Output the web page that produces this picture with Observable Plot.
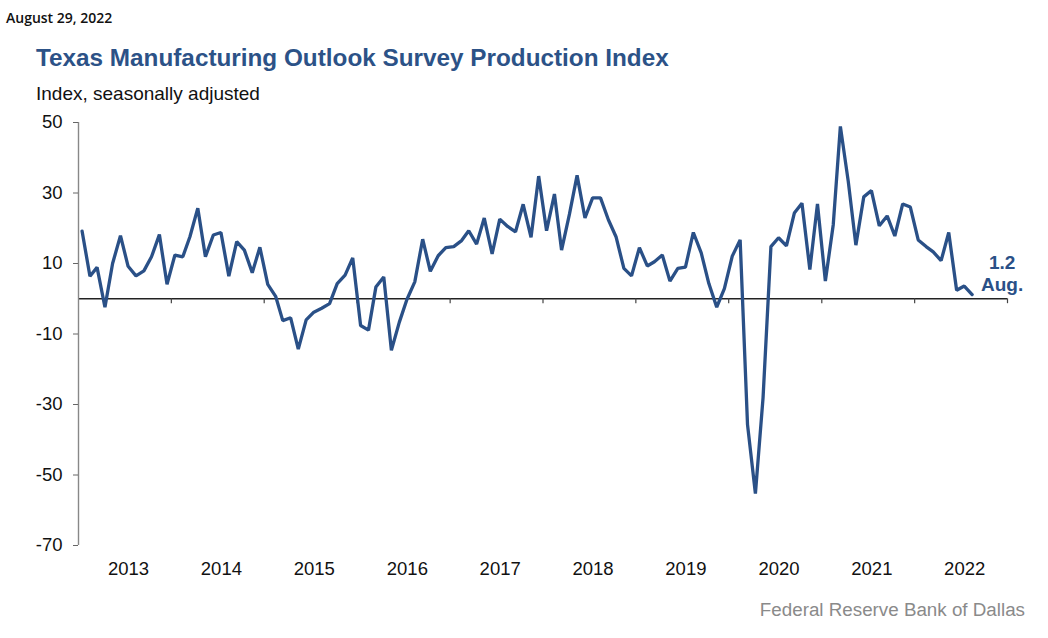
<!DOCTYPE html>
<html>
<head>
<meta charset="utf-8">
<script src="https://cdn.jsdelivr.net/npm/d3@7"></script>
<script src="https://cdn.jsdelivr.net/npm/@observablehq/plot@0.6"></script>
<style>
  html, body { margin: 0; padding: 0; background: #fff; }
  #wrap { position: relative; width: 1048px; height: 638px; overflow: hidden; background: #fff; }
  .t { position: absolute; white-space: nowrap; line-height: 1; }
  #date { left: 6px; top: 11px; font-family: "Open Sans", sans-serif; font-weight: 600; font-size: 14px; color: #111; }
  #title { left: 36px; top: 46px; font-family: "Liberation Sans", Arial, sans-serif; font-weight: bold; font-size: 24.3px; color: #2c5287; }
  #subtitle { left: 36px; top: 84px; font-family: "Liberation Sans", Arial, sans-serif; font-size: 19px; color: #111; }
  #footer { right: 23px; top: 601px; font-family: "Liberation Sans", Arial, sans-serif; font-size: 18.8px; color: #8a8a8a; }
  #chart { position: absolute; left: 0; top: 105px; }
</style>
</head>
<body>
<div id="wrap">
  <div class="t" id="date">August 29, 2022</div>
  <div class="t" id="title">Texas Manufacturing Outlook Survey Production Index</div>
  <div class="t" id="subtitle">Index, seasonally adjusted</div>
  <div id="chart"></div>
  <div class="t" id="footer">Federal Reserve Bank of Dallas</div>
</div>
<script>
// Monthly series, January 2013 through August 2022
const startYear = 2013;
const values = [
  19.2, 6.4, 8.9, -2.4, 10.0, 17.9, 9.2, 6.5, 7.9, 11.9, 18.2, 4.1,      // 2013
  12.4, 11.9, 17.6, 25.7, 11.9, 18.1, 18.8, 6.4, 16.2, 13.8, 7.4, 14.6,  // 2014
  4.1, 0.7, -6.2, -5.4, -14.3, -6.0, -3.8, -2.7, -1.4, 4.3, 6.7, 11.6,   // 2015
  -7.6, -8.9, 3.3, 6.2, -14.6, -6.7, -0.2, 4.8, 16.9, 7.8, 12.2, 14.5,   // 2016
  14.8, 16.5, 19.3, 15.5, 22.9, 12.7, 22.6, 20.5, 19.0, 26.8, 17.4, 34.8,// 2017
  19.3, 29.7, 13.8, 24.0, 35.0, 22.9, 28.6, 28.6, 22.4, 17.6, 8.6, 6.5,  // 2018
  14.5, 9.3, 10.5, 12.4, 5.0, 8.6, 9.0, 18.8, 13.0, 4.3, -2.4, 2.9,      // 2019
  12.1, 16.7, -35.7, -55.3, -28.1, 14.8, 17.3, 15.0, 24.3, 27.1, 8.3, 26.9, // 2020
  5.0, 21.0, 48.9, 33.3, 15.2, 28.9, 30.7, 20.7, 23.5, 17.8, 26.9, 26.0, // 2021
  16.7, 14.8, 13.3, 10.8, 18.8, 2.4, 3.6, 1.2                            // 2022
];
const yearLabels = ["2013","2014","2015","2016","2017","2018","2019","2020","2021","2022"];
const yTicks = [-70, -50, -30, -10, 10, 30, 50];
const lastMonthLabel = "Aug.";

const blue = "#2a5087";
const data = values.map((v, i) => ({date: new Date(Date.UTC(startYear, i, 15)), value: v}));
const last = data[data.length - 1];
const yearStarts = d3.range(startYear, startYear + yearLabels.length + 1).map(y => new Date(Date.UTC(y, 0, 1)));
const midYears = yearLabels.map(y => new Date(Date.UTC(+y, 6, 1)));

const chart = Plot.plot({
  width: 1048,
  height: 500,
  marginLeft: 78,
  marginRight: 41,
  marginTop: 17,
  marginBottom: 60,
  style: {fontFamily: "'Liberation Sans', Arial, sans-serif", fontSize: "18.5px", color: "#111", background: "white"},
  x: {type: "utc", domain: [yearStarts[0], yearStarts[yearStarts.length - 1]]},
  y: {domain: [-70, 50]},
  marks: [
    Plot.ruleY([0], {stroke: "#222", strokeWidth: 1.3}),
    Plot.ruleX(yearStarts.slice(1), {y1: 0, y2: -1.4, stroke: "#444", strokeWidth: 1.2}),
    Plot.ruleX([yearStarts[0]], {y1: -70, y2: 50, stroke: "#888", strokeWidth: 1.4}),
    Plot.axisY({ticks: yTicks, tickSize: 5, tickPadding: 11, tickFormat: d => String(d), stroke: "#666", fill: "#111", label: null}),
    Plot.axisX({ticks: midYears, tickSize: 0, tickPadding: 16, tickFormat: (d, i) => yearLabels[i], dx: 4, fill: "#111", label: null}),
    Plot.lineY(data, {x: "date", y: "value", stroke: blue, strokeWidth: 3.3, strokeLinejoin: "miter"}),
    Plot.text([last], {x: "date", y: "value", text: d => d.value.toFixed(1), dx: 30, dy: -26, lineAnchor: "bottom", textAnchor: "middle", fill: blue, fontWeight: "bold", fontSize: 19}),
    Plot.text([last], {x: "date", y: "value", text: () => lastMonthLabel, dx: 30, dy: -4, lineAnchor: "bottom", textAnchor: "middle", fill: blue, fontWeight: "bold", fontSize: 19})
  ]
});
document.getElementById("chart").appendChild(chart);
</script>
</body>
</html>
